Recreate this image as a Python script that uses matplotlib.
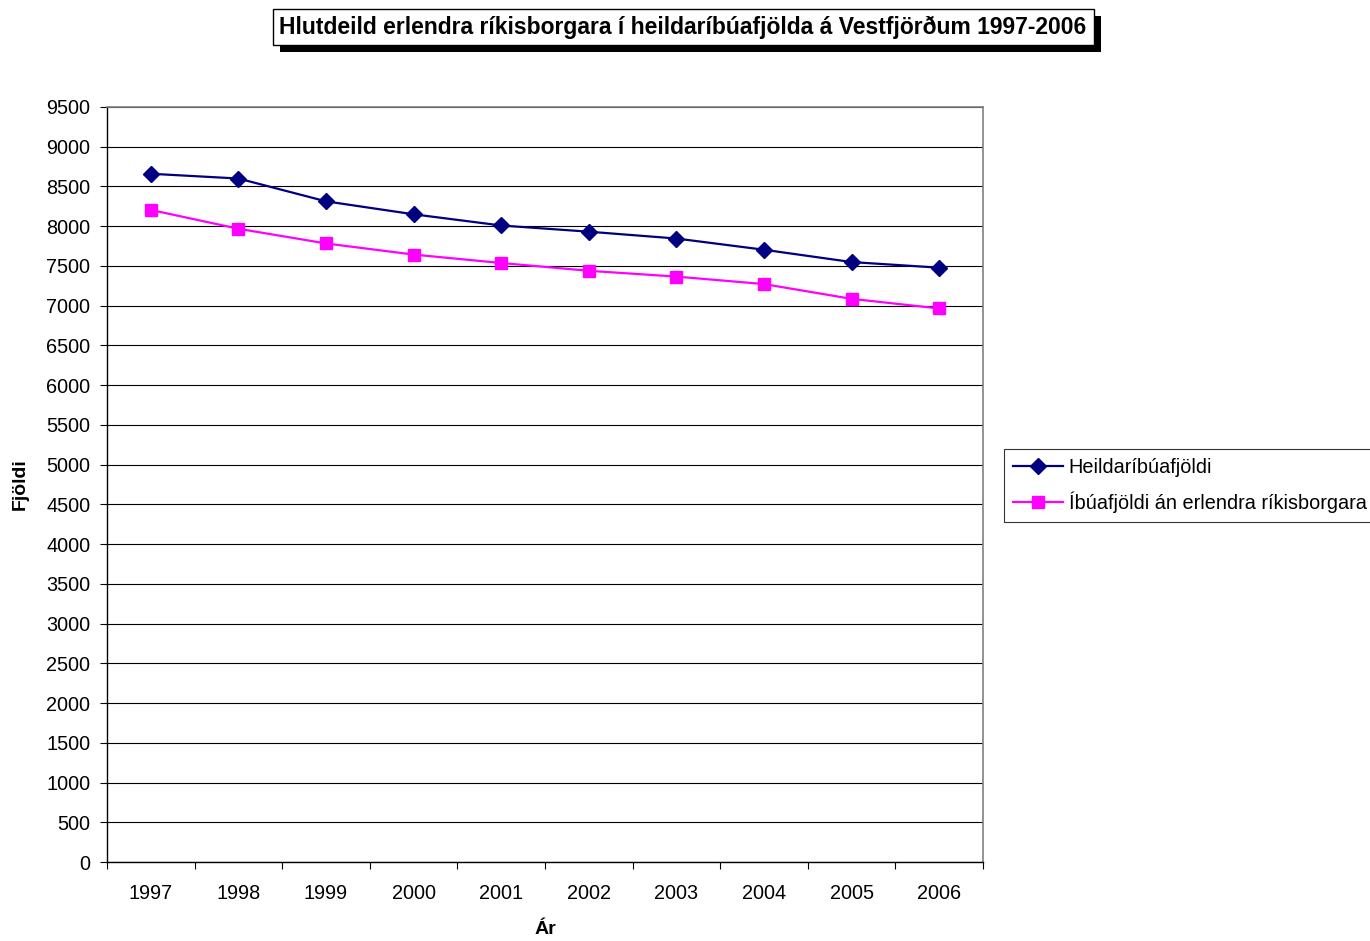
import matplotlib
matplotlib.use("Agg")
import matplotlib.pyplot as plt
from matplotlib.patches import Rectangle
from matplotlib.ticker import MultipleLocator, FixedLocator

plt.rcParams["font.family"] = ["Liberation Sans", "DejaVu Sans"]

# gögn lesin af myndinni
ar = ["1997", "1998", "1999", "2000", "2001", "2002", "2003", "2004", "2005", "2006"]
heildar = [8660, 8600, 8313, 8150, 8009, 7931, 7845, 7704, 7549, 7478]
an_erlendra = [8205, 7968, 7783, 7643, 7537, 7439, 7366, 7272, 7086, 6965]

titill = "Hlutdeild erlendra ríkisborgara í heildaríbúafjölda á Vestfjörðum 1997-2006"
lab_heildar = "Heildaríbúafjöldi"
lab_an = "Íbúafjöldi án erlendra ríkisborgara"

fig = plt.figure(figsize=(13.7, 9.41), dpi=100)
ax = fig.add_axes([107 / 1370, 1 - 862 / 941, (983 - 107) / 1370, (862 - 107) / 941])

x = list(range(len(ar)))
ax.plot(x, heildar, color="#000080", lw=1.6, marker="D", ms=8.5, mfc="#000080", mec="#000080",
        label=lab_heildar, zorder=3)
ax.plot(x, an_erlendra, color="#FF00FF", lw=1.6, marker="s", ms=9, mfc="#FF00FF", mec="#FF00FF",
        label=lab_an, zorder=3)

ax.set_xlim(-0.5, len(ar) - 0.5)
ax.set_ylim(0, 9500)
ax.yaxis.set_major_locator(MultipleLocator(500))
ax.grid(axis="y", color="black", lw=0.8)
ax.set_axisbelow(True)

# flokkaás eins og í Excel: strik á milli flokka
ax.xaxis.set_major_locator(FixedLocator(x))
ax.set_xticklabels(ar)
ax.xaxis.set_minor_locator(FixedLocator([i - 0.5 for i in range(len(ar) + 1)]))
ax.tick_params(axis="x", which="major", length=0, pad=16, labelsize=14.3)
ax.tick_params(axis="x", which="minor", length=5, width=0.8, direction="out")
ax.tick_params(axis="y", length=5, width=0.8, direction="out", pad=7, labelsize=14.3)

for side in ["top", "right"]:
    ax.spines[side].set_color("#808080")
    ax.spines[side].set_linewidth(1.2)
for side in ["left", "bottom"]:
    ax.spines[side].set_color("black")
    ax.spines[side].set_linewidth(1)

fig.text(20 / 1370, 1 - 484 / 941, "Fjöldi", rotation=90, ha="center", va="center",
         fontsize=14, fontweight="bold")
fig.text(545 / 1370, 1 - 930 / 941, "Ár", ha="center", va="center",
         fontsize=14, fontweight="bold")

# titill í ramma með skugga
t = fig.text(683 / 1370, 1 - 27 / 941, titill, ha="center", va="center",
             fontsize=16.5, fontweight="bold",
             bbox=dict(boxstyle="square,pad=0.3", fc="white", ec="black", lw=1))
fig.canvas.draw()
bb = t.get_bbox_patch().get_window_extent(fig.canvas.get_renderer())
inv = fig.transFigure.inverted()
(x0, y0), (x1, y1) = inv.transform([[bb.x0 + 7, bb.y0 - 7], [bb.x1 + 7, bb.y1 - 7]])
fig.patches.append(Rectangle((x0, y0), x1 - x0, y1 - y0, transform=fig.transFigure,
                             fc="black", ec="none", zorder=0))

leg = fig.legend(loc="upper left", bbox_to_anchor=(1004 / 1370, 1 - 449 / 941),
                 fontsize=14.3, frameon=True, fancybox=False, edgecolor="black",
                 borderaxespad=0, handlelength=2.5, borderpad=0.45, labelspacing=0.75,
                 handletextpad=0.3)
leg.get_frame().set_linewidth(0.8)

fig.savefig("out.png", dpi=100)
